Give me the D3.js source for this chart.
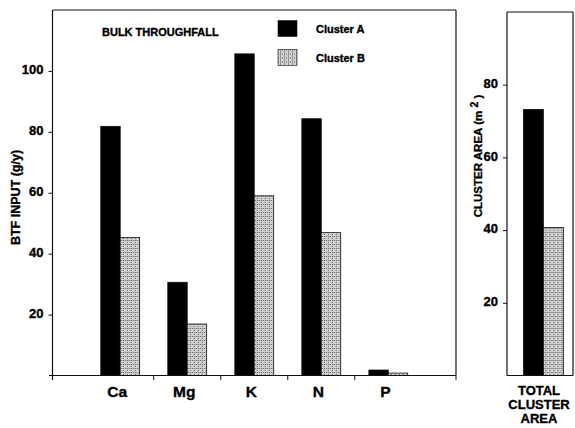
<!DOCTYPE html>
<html>
<head>
<meta charset="utf-8">
<script src="https://cdn.jsdelivr.net/npm/d3@7"></script>
<style>
  body { margin: 0; background: #fff; }
  svg { display: block; font-family: "Liberation Sans", Arial, sans-serif; font-weight: bold; }
  svg text { stroke: #000; stroke-width: 0.35px; }
</style>
</head>
<body>
<svg id="chart" width="575" height="428"></svg>
<script>
// data
const elements = ["Ca", "Mg", "K", "N", "P"];
const clusters = ["Cluster A", "Cluster B"];
const btfA = [81.8, 30.6, 105.6, 84.3, 1.8];
const btfB = [45.3, 16.9, 59.0, 46.9, 0.8];
const areaA = [73.2];
const areaB = [40.7];
const btfTicks = [20, 40, 60, 80, 100];
const areaTicks = [20, 40, 60, 80];

const svg = d3.select("#chart");
const ink = "#111";

// stippled grey fill for cluster B
const pat = svg.append("defs").append("pattern")
    .attr("id", "stipple")
    .attr("patternUnits", "userSpaceOnUse")
    .attr("width", 4).attr("height", 4);
pat.append("rect").attr("width", 4).attr("height", 4).attr("fill", "#d2d2d2");
[[0, 0], [2, 2], [2, 0]].forEach(p => {
  pat.append("rect").attr("x", p[0]).attr("y", p[1]).attr("width", 1).attr("height", 1).attr("fill", "#5a5a5a");
});

const fills = { "Cluster A": "#000", "Cluster B": "url(#stipple)" };

// ---------- left panel: bulk throughfall ----------
const yL = d3.scaleLinear().domain([0, 120]).range([375.5, 10]);
const xL = d3.scaleBand().domain(elements).range([52.5, 456])
    .paddingInner(0.42).paddingOuter(0.72);
const xSub = d3.scaleBand().domain(clusters).range([0, xL.bandwidth()]);

const btf = elements.map((e, i) => ({ key: e, vals: [btfA[i], btfB[i]] }));

const groups = svg.append("g").selectAll("g")
  .data(btf)
  .join("g")
    .attr("transform", d => `translate(${xL(d.key)},0)`);

groups.selectAll("rect")
  .data(d => d.vals.map((v, j) => ({ c: clusters[j], v })))
  .join("rect")
    .attr("x", d => xSub(d.c))
    .attr("y", d => yL(d.v))
    .attr("width", xSub.bandwidth())
    .attr("height", d => yL(0) - yL(d.v))
    .attr("fill", d => fills[d.c])
    .attr("stroke", ink)
    .attr("stroke-width", 0.8);

// frame
const frameL = svg.append("g").attr("fill", "none").attr("stroke", ink).attr("stroke-width", 1.2);
frameL.append("line").attr("x1", 52.5).attr("x2", 456).attr("y1", 10).attr("y2", 10);
frameL.append("line").attr("x1", 456).attr("x2", 456).attr("y1", 10).attr("y2", 375.5);

// y axis
const yAxisL = svg.append("g")
    .attr("transform", "translate(52.5,0)")
    .call(d3.axisLeft(yL).tickValues(btfTicks).tickSize(4).tickPadding(5));
yAxisL.select(".domain").attr("d", "M0,10V380");

// x axis: line plus ticks at group boundaries
const centers = elements.map(e => xL(e) + xL.bandwidth() / 2);
const bounds = [52.5].concat(d3.pairs(centers).map(p => (p[0] + p[1]) / 2), [456]);
const xAxisL = svg.append("g");
xAxisL.append("line").attr("x1", 49).attr("x2", 456).attr("y1", 375.5).attr("y2", 375.5)
    .attr("stroke", ink).attr("stroke-width", 1.2);
xAxisL.selectAll(".bt").data(bounds).join("line")
    .attr("x1", d => d).attr("x2", d => d)
    .attr("y1", 375.5).attr("y2", 380)
    .attr("stroke", ink).attr("stroke-width", 1);
xAxisL.selectAll("text").data(elements).join("text")
    .attr("x", d => xL(d) + xL.bandwidth() / 2 - 3)
    .attr("y", 397)
    .attr("text-anchor", "middle")
    .attr("font-size", 15.5)
    .text(d => d);

svg.append("text")
    .attr("transform", "translate(19.5,197.5) rotate(-90)")
    .attr("text-anchor", "middle")
    .attr("font-size", 12.5)
    .text("BTF INPUT (g/y)");

svg.append("text")
    .attr("x", 102).attr("y", 36)
    .attr("font-size", 11)
    .text("BULK THROUGHFALL");

// legend
const leg = svg.append("g").selectAll("g").data(clusters).join("g")
    .attr("transform", (d, i) => `translate(278,${20.5 + i * 29})`);
leg.append("rect")
    .attr("width", 19).attr("height", 16)
    .attr("fill", d => fills[d])
    .attr("stroke", ink).attr("stroke-width", 0.6);
leg.append("text")
    .attr("x", 38).attr("y", 12.8)
    .attr("font-size", 11)
    .text(d => d);

// ---------- right panel: total cluster area ----------
const yR = d3.scaleLinear().domain([0, 100]).range([375.5, 12]);
const xR = d3.scaleBand().domain(["TOTAL"]).range([507, 573])
    .paddingOuter(0.325).align(0.63);
const xSubR = d3.scaleBand().domain(clusters).range([0, xR.bandwidth()]);

svg.append("g").attr("transform", `translate(${xR("TOTAL")},0)`)
  .selectAll("rect")
  .data([{ c: clusters[0], v: areaA[0] }, { c: clusters[1], v: areaB[0] }])
  .join("rect")
    .attr("x", d => xSubR(d.c))
    .attr("y", d => yR(d.v))
    .attr("width", xSubR.bandwidth())
    .attr("height", d => yR(0) - yR(d.v))
    .attr("fill", d => fills[d.c])
    .attr("stroke", ink)
    .attr("stroke-width", 0.8);

const frameR = svg.append("g").attr("fill", "none").attr("stroke", ink).attr("stroke-width", 1.2);
frameR.append("line").attr("x1", 507).attr("x2", 573).attr("y1", 12).attr("y2", 12);
frameR.append("line").attr("x1", 573).attr("x2", 573).attr("y1", 12).attr("y2", 375.5);
frameR.append("line").attr("x1", 507).attr("x2", 573).attr("y1", 375.5).attr("y2", 375.5);

const yAxisR = svg.append("g")
    .attr("transform", "translate(507,0)")
    .call(d3.axisLeft(yR).tickValues(areaTicks).tickSize(4).tickPadding(5));
yAxisR.select(".domain").attr("d", "M0,12V375.5");

[yAxisL, yAxisR].forEach(a => {
  a.selectAll(".domain").attr("stroke", ink).attr("stroke-width", 1.2);
  a.selectAll(".tick line").attr("stroke", ink);
  a.selectAll(".tick text")
      .attr("font-size", 13)
      .attr("font-family", "Liberation Sans, Arial, sans-serif")
      .attr("font-weight", "bold")
      .attr("fill", "#000")
      .attr("dy", "0.22em");
});

const areaLabel = svg.append("text")
    .attr("transform", "translate(482,156) rotate(-90)")
    .attr("text-anchor", "middle")
    .attr("font-size", 11.5);
areaLabel.append("tspan").text("CLUSTER AREA (m ");
areaLabel.append("tspan").attr("font-size", 10.5).attr("dy", -4).text("2");
areaLabel.append("tspan").attr("dy", 4).text(" )");

svg.append("text")
    .attr("text-anchor", "middle")
    .attr("font-size", 13)
  .selectAll("tspan")
  .data(["TOTAL", "CLUSTER", "AREA"])
  .join("tspan")
    .attr("x", 539)
    .attr("y", (d, i) => 395 + i * 14.2)
    .text(d => d);
</script>
</body>
</html>
